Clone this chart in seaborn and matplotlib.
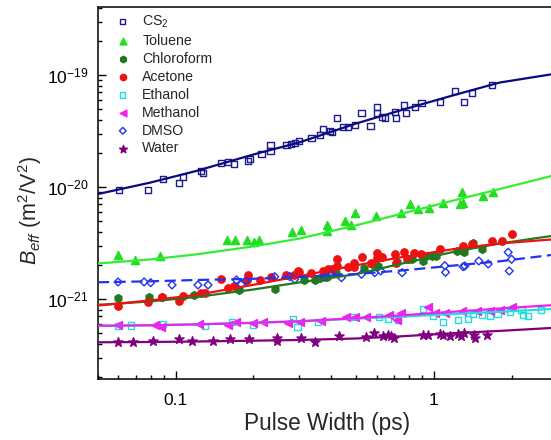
import numpy as np
import pandas as pd
import matplotlib
matplotlib.use("Agg")
import matplotlib.pyplot as plt
import seaborn as sns
from matplotlib.ticker import LogLocator, NullFormatter, FixedLocator, FixedFormatter

UNIT = 1e-21  # y values below are in units of 1e-21 m^2/V^2

series_names = ["CS$_2$", "Toluene", "Chloroform", "Acetone", "Ethanol", "Methanol", "DMSO", "Water"]

cs2_x = [0.0601, 0.0781, 0.0891, 0.103, 0.1067, 0.125, 0.1276, 0.150, 0.1595, 0.168, 0.1906, 0.194,
         0.215, 0.233, 0.233, 0.2685, 0.2806, 0.289, 0.3006, 0.3357, 0.3614, 0.372, 0.395, 0.4036,
         0.4217, 0.4449, 0.4656, 0.494, 0.5246, 0.5688, 0.6026, 0.6026, 0.6306, 0.6479, 0.7063,
         0.7125, 0.7674, 0.7787, 0.8433, 0.8954, 1.054, 1.205, 1.306, 1.407, 1.681]
cs2_y = [9.34, 9.34, 11.72, 10.79, 12.21, 13.99, 13.42, 16.29, 16.63, 15.95, 17.06, 17.78,
         19.82, 20.96, 23.56, 23.56, 24.36, 24.87, 25.58, 27.38, 28.94, 32.74, 31.62, 30.77,
         41.05, 34.12, 34.51, 35.56, 45.5, 34.83, 51.8, 45.5, 42.4, 41.05, 47.0,
         41.05, 54.0, 46.0, 52.1, 55.9, 57.8, 72.4, 57.0, 68.7, 81.9]

tol_x = [0.0598, 0.0693, 0.0872, 0.1581, 0.1703, 0.1889, 0.2012, 0.2103, 0.2816, 0.3071, 0.3848,
         0.3853, 0.4519, 0.4781, 0.4941, 0.5958, 0.7450, 0.8072, 0.8670, 0.9607, 1.0866, 1.267,
         1.301, 1.290, 1.556, 1.693]
tol_y = [2.471, 2.215, 2.419, 3.343, 3.343, 3.384, 3.209, 3.364, 3.990, 4.155, 4.550,
         4.072, 4.941, 4.606, 5.825, 5.543, 5.896, 7.051, 6.427, 6.494, 7.270, 7.051,
         7.270, 9.116, 8.312, 8.968]

chl_x = [0.0599, 0.0789, 0.0882, 0.1180, 0.1755, 0.2426, 0.3147, 0.3457, 0.3614, 0.3848, 0.4171,
         0.5378, 0.5750, 0.6066, 0.7190, 0.8000, 0.8216, 0.9090, 0.931, 0.982, 1.015, 1.225,
         1.307, 1.413, 1.531]
chl_y = [1.021, 1.042, 1.042, 1.075, 1.203, 1.233, 1.478, 1.487, 1.530, 1.588, 1.690,
         1.872, 2.054, 1.991, 2.118, 2.253, 2.276, 2.162, 2.445, 2.420, 2.445, 2.656,
         2.602, 3.162, 2.767]

ace_x = [0.0598, 0.0781, 0.0885, 0.103, 0.1067, 0.1258, 0.1299, 0.1494, 0.1595, 0.168, 0.1906,
         0.1889, 0.2116, 0.2334, 0.2685, 0.2867, 0.2979, 0.3006, 0.3357, 0.372, 0.3893, 0.4036,
         0.4217, 0.4217, 0.4630, 0.4897, 0.4897, 0.5246, 0.5700, 0.6026, 0.6026, 0.6306, 0.7063,
         0.7125, 0.7674, 0.7837, 0.8386, 0.8954, 1.054, 1.299, 1.407, 1.681, 1.830, 2.001]
ace_y = [0.871, 0.946, 1.048, 0.966, 1.057, 1.138, 1.120, 1.499, 1.261, 1.315, 1.638,
         1.469, 1.478, 1.562, 1.638, 1.638, 1.789, 1.731, 1.696, 1.778, 1.841, 1.853,
         2.276, 1.983, 1.919, 2.109, 1.943, 2.386, 2.084, 2.559, 2.338, 2.386, 2.522,
         2.109, 2.612, 2.276, 2.591, 2.522, 2.778, 2.991, 3.097, 3.316, 3.316, 3.781]

eth_x = [0.0596, 0.0672, 0.0891, 0.1296, 0.1653, 0.1992, 0.2854, 0.2963, 0.3550, 0.4867, 0.6138,
         0.6652, 0.7253, 0.909, 0.9938, 1.0866, 1.242, 1.358, 1.420, 1.535, 1.649, 1.763,
         1.971, 2.187, 2.213, 2.320, 2.598]
eth_y = [0.5741, 0.580, 0.5943, 0.5706, 0.6233, 0.5861, 0.6587, 0.5590, 0.6272, 0.6866, 0.6908,
         0.6587, 0.6494, 0.8091, 0.7121, 0.6272, 0.6494, 0.6656, 0.7346, 0.7152, 0.7079, 0.7317,
         0.7606, 0.7976, 0.7197, 0.7007, 0.7976]

met_x = [0.0599, 0.0831, 0.0879, 0.1228, 0.1598, 0.1708, 0.1988, 0.2174, 0.2729, 0.3039, 0.3664,
         0.4587, 0.4941, 0.5449, 0.6693, 0.7190, 0.7450, 0.9478, 1.009, 1.103, 1.290, 1.468,
         1.649, 1.803, 2.001]
met_y = [0.580, 0.5861, 0.568, 0.5920, 0.580, 0.6233, 0.6143, 0.6272, 0.6105, 0.6233, 0.6387,
         0.6838, 0.695, 0.6908, 0.7197, 0.6494, 0.7499, 0.8484, 0.7545, 0.7452, 0.7814, 0.7846,
         0.7766, 0.7926, 0.8484]

dmso_x = [0.0598, 0.0754, 0.0800, 0.0968, 0.122, 0.1334, 0.1719, 0.1797, 0.1863, 0.2419, 0.2766,
          0.289, 0.3780, 0.4012, 0.4387, 0.5246, 0.5905, 0.6231, 0.7537, 1.103, 1.11, 1.299,
          1.319, 1.494, 1.624, 1.941, 2.001, 1.959]
dmso_y = [1.419, 1.419, 1.398, 1.334, 1.334, 1.334, 1.478, 1.353, 1.448, 1.582, 1.582,
          1.499, 1.562, 1.672, 1.550, 1.662, 1.718, 1.778, 1.718, 1.983, 1.731, 1.943,
          1.971, 2.184, 2.054, 2.612, 2.262, 1.778]

wat_x = [0.0599, 0.0681, 0.0818, 0.1027, 0.1153, 0.1391, 0.1629, 0.1927, 0.2463, 0.2463, 0.3071,
         0.3479, 0.4292, 0.5483, 0.5868, 0.6362, 0.6652, 0.6813, 0.6998, 0.9042, 0.9504, 1.058,
         1.084, 1.151, 1.242, 1.276, 1.309, 1.435, 1.445, 1.601]
wat_y = [0.4156, 0.4131, 0.4242, 0.4394, 0.4234, 0.4242, 0.4376, 0.4420, 0.4484, 0.4173, 0.4457,
         0.4156, 0.4645, 0.4607, 0.4941, 0.4645, 0.4741, 0.4645, 0.4513, 0.4741, 0.4799, 0.4870,
         0.4771, 0.4645, 0.4850, 0.4625, 0.4972, 0.4790, 0.4484, 0.4771]

# fitted curves, read at these pulse widths
fit_x = [0.05, 0.08, 0.12, 0.2, 0.3, 0.5, 0.75, 1.2, 1.8, 2.85]
cs2_fit = [8.66, 10.97, 13.90, 19.51, 24.96, 36.9, 48.7, 66.3, 85.7, 101.4]
tol_fit = [2.075, 2.257, 2.502, 2.949, 3.455, 4.550, 5.776, 7.608, 9.596, 12.54]
chl_fit = [0.884, 0.952, 1.042, 1.216, 1.404, 1.665, 2.071, 2.644, 3.130, 3.652]
ace_fit = [0.875, 0.972, 1.086, 1.339, 1.598, 2.0, 2.362, 2.796, 3.130, 3.399]
eth_fit = [0.5763, 0.5834, 0.5930, 0.6130, 0.6322, 0.6683, 0.6964, 0.7346, 0.7687, 0.8141]
met_fit = [0.5763, 0.5822, 0.5930, 0.6130, 0.6322, 0.6738, 0.7152, 0.7703, 0.8226, 0.880]
dmso_fit = [1.410, 1.439, 1.478, 1.515, 1.572, 1.672, 1.797, 1.991, 2.171, 2.471]
wat_fit = [0.4106, 0.4131, 0.4173, 0.4242, 0.4304, 0.4439, 0.4645, 0.4951, 0.5190, 0.5510]

y_ticks = [1e-21, 1e-20, 1e-19]
x_ticks = [0.1, 1]
x_tick_labels = ["0.1", "1"]

# ---------------- styling ----------------
sns.set_style("ticks")
plt.rcParams['font.family'] = ['Liberation Sans', 'DejaVu Sans']
plt.rcParams['mathtext.fontset'] = 'custom'
plt.rcParams['mathtext.rm'] = 'Liberation Sans'
plt.rcParams['mathtext.it'] = 'Liberation Sans:italic'
plt.rcParams['mathtext.bf'] = 'Liberation Sans:bold'

styles = [
    # marker, size, marker color, open?, line color, linestyle
    ("s", 20, "#1c1c8a", True, "#0a0a80", "-"),
    ("^", 34, "#22dd22", False, "#33ee33", "-"),
    ("h", 32, "#1f7a1f", False, "#1f7a1f", "-"),
    ("o", 28, "#ee1111", False, "#ee1111", "-"),
    ("s", 20, "#22dddd", True, "#22dddd", "-"),
    ("<", 32, "#ee22ee", False, "#ee22ee", "-"),
    ("D", 16, "#2233ee", True, "#2233ee", (0, (5, 2.5))),
    ("*", 48, "#800080", False, "#800080", "-"),
]

pts = [(cs2_x, cs2_y), (tol_x, tol_y), (chl_x, chl_y), (ace_x, ace_y),
       (eth_x, eth_y), (met_x, met_y), (dmso_x, dmso_y), (wat_x, wat_y)]
fits = [cs2_fit, tol_fit, chl_fit, ace_fit, eth_fit, met_fit, dmso_fit, wat_fit]

fig = plt.figure(figsize=(5.51, 4.40), dpi=100)
ax = fig.add_axes([98 / 551, 61 / 440, 459 / 551, 372 / 440])
ax.set_xscale('log')
ax.set_yscale('log')

handles = []
for name, (xs, ys), (mk, sz, mc, is_open, lc, ls) in zip(series_names, pts, styles):
    df = pd.DataFrame({"x": xs, "y": np.array(ys) * UNIT})
    sns.scatterplot(data=df, x="x", y="y", marker=mk, s=sz, color=mc,
                    edgecolor=mc, linewidth=1.0, ax=ax, legend=False, zorder=2)
    coll = ax.collections[-1]
    if is_open:
        coll.set_facecolor("none")
        coll.set_edgecolor(mc)
        coll.set_linewidth(1.0)
    handles.append(coll)

for fy, (mk, sz, mc, is_open, lc, ls) in zip(fits, styles):
    df = pd.DataFrame({"x": fit_x, "y": np.array(fy) * UNIT})
    sns.lineplot(data=df, x="x", y="y", color=lc, linewidth=1.6, linestyle=ls,
                 ax=ax, legend=False, zorder=3)

ax.set_xlim(0.05, 3.0)
ax.set_ylim(1.93e-22, 4.05e-19)

ax.xaxis.set_major_locator(FixedLocator(x_ticks))
ax.xaxis.set_major_formatter(FixedFormatter(x_tick_labels))
ax.xaxis.set_minor_locator(LogLocator(base=10, subs=np.arange(2, 10), numticks=20))
ax.xaxis.set_minor_formatter(NullFormatter())
ax.yaxis.set_major_locator(FixedLocator(y_ticks))
ax.yaxis.set_minor_locator(LogLocator(base=10, subs=np.arange(2, 10), numticks=20))
ax.yaxis.set_minor_formatter(NullFormatter())

ax.tick_params(which='both', direction='in', top=False, right=False, width=1.0,
               labelsize=12.5, colors='black')
ax.tick_params(which='major', length=6)
ax.tick_params(which='minor', length=3)
ax.tick_params(axis='x', which='major', pad=10)
ax.tick_params(axis='y', which='major', pad=7)
for sp in ax.spines.values():
    sp.set_linewidth(1.1)
    sp.set_color('black')

ax.set_xlabel("Pulse Width (ps)", fontsize=16.3, labelpad=3)
ax.set_ylabel("$B_{eff}$ (m$^2$/V$^2$)", fontsize=15.5)
ax.yaxis.set_label_coords(-0.118, 0.454)

leg = ax.legend(handles, series_names, loc='upper left', bbox_to_anchor=(0.0386, 0.983),
                frameon=False, fontsize=10.2, handlelength=1.0, handletextpad=0.87,
                labelspacing=0.28, borderpad=0, borderaxespad=0, scatterpoints=1,
                markerscale=0.85)

fig.savefig("out.png", dpi=100)
